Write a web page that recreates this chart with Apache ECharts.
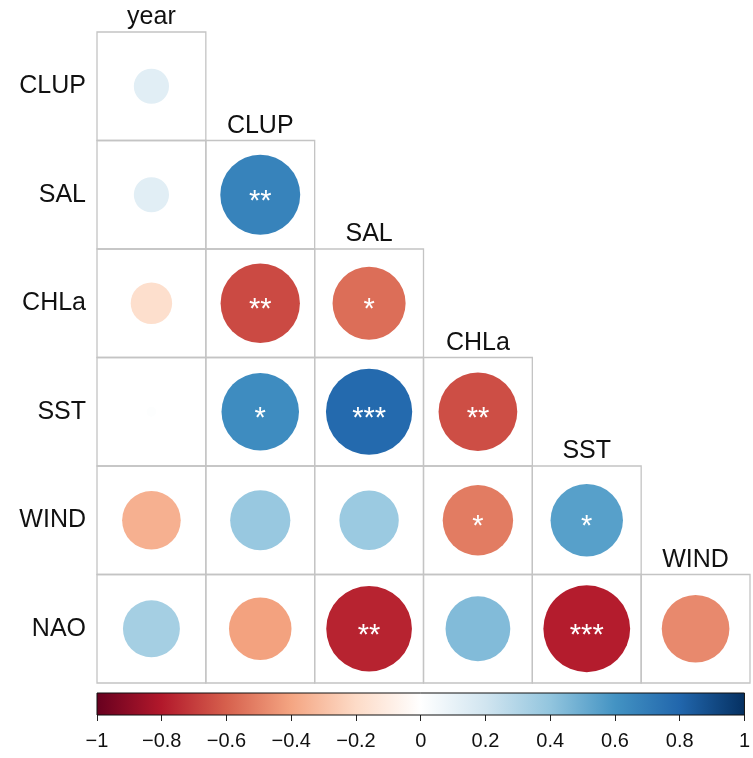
<!DOCTYPE html>
<html>
<head>
<meta charset="utf-8">
<script src="https://cdn.jsdelivr.net/npm/echarts@6/dist/echarts.min.js"></script>
<style>
html,body{margin:0;padding:0;background:#fff;}
#chart{width:753px;height:758px;}
</style>
</head>
<body>
<div id="chart"></div>
<script>
// ---- data ----
const rowNames = ['CLUP', 'SAL', 'CHLa', 'SST', 'WIND', 'NAO'];
const colNames = ['year', 'CLUP', 'SAL', 'CHLa', 'SST', 'WIND'];
// lower-triangle correlations, row by row (columns year..)
const corrCLUP = [0.13];
const corrSAL  = [0.13, 0.67];
const corrCHLa = [-0.18, -0.66, -0.56];
const corrSST  = [0.01, 0.63, 0.78, -0.65];
const corrWIND = [-0.36, 0.38, 0.37, -0.52, 0.55];
const corrNAO  = [0.34, -0.41, -0.77, 0.44, -0.79, -0.48];
const starsCLUP = [''];
const starsSAL  = ['', '**'];
const starsCHLa = ['', '**', '*'];
const starsSST  = ['', '*', '***', '**'];
const starsWIND = ['', '', '', '*', '*'];
const starsNAO  = ['', '', '**', '', '***', ''];
const colorbarTicks = [-1, -0.8, -0.6, -0.4, -0.2, 0, 0.2, 0.4, 0.6, 0.8, 1];

const corrRows = [corrCLUP, corrSAL, corrCHLa, corrSST, corrWIND, corrNAO];
const starRows = [starsCLUP, starsSAL, starsCHLa, starsSST, starsWIND, starsNAO];

// RdBu palette (corrplot COL2('RdBu'))
const stops = ['#67001F', '#B2182B', '#D6604D', '#F4A582', '#FDDBC7', '#FFFFFF',
               '#D1E5F0', '#92C5DE', '#4393C3', '#2166AC', '#053061'];
function hex2rgb(h) { return [parseInt(h.slice(1,3),16), parseInt(h.slice(3,5),16), parseInt(h.slice(5,7),16)]; }
function colorOf(v) {
  const t = (Math.max(-1, Math.min(1, v)) + 1) / 2 * (stops.length - 1);
  const i = Math.min(stops.length - 2, Math.floor(t));
  const f = t - i;
  const a = hex2rgb(stops[i]), b = hex2rgb(stops[i + 1]);
  const c = a.map((x, k) => Math.round(x + (b[k] - x) * f));
  return 'rgb(' + c.join(',') + ')';
}

const cellData = [];
corrRows.forEach((row, i) => {
  row.forEach((v, j) => { cellData.push([j, i, v, starRows[i][j]]); });
});

const FONT = '"Liberation Sans", Arial, sans-serif';

const chart = echarts.init(document.getElementById('chart'), null, { renderer: 'canvas' });
chart.setOption({
  backgroundColor: '#ffffff',
  animation: false,
  grid: [
    { left: 97, top: 32, width: 653, height: 651 },
    { left: 97, top: 693, width: 653, height: 22 }
  ],
  xAxis: [
    { gridIndex: 0, type: 'category', data: colNames, show: false },
    {
      gridIndex: 1, type: 'value', min: -1, max: 1, interval: 0.2,
      axisLine: { show: false },
      axisTick: { show: true, length: 6, lineStyle: { color: '#222', width: 1 } },
      splitLine: { show: false },
      axisLabel: {
        fontSize: 20, color: '#111', fontFamily: FONT, margin: 16,
        formatter: v => String(colorbarTicks.reduce((p, c) => Math.abs(c - v) < Math.abs(p - v) ? c : p)).replace('-', '\u2212')
      }
    }
  ],
  yAxis: [
    {
      gridIndex: 0, type: 'category', data: rowNames, inverse: true,
      axisLine: { show: false }, axisTick: { show: false }, splitLine: { show: false },
      axisLabel: { fontSize: 25, color: '#111', fontFamily: FONT, margin: 11 }
    },
    { gridIndex: 1, type: 'value', min: 0, max: 1, show: false }
  ],
  series: [
    {
      type: 'custom',
      xAxisIndex: 0, yAxisIndex: 0,
      data: cellData,
      renderItem: function (params, api) {
        const j = api.value(0), i = api.value(1), v = api.value(2);
        const st = cellData[params.dataIndex][3];
        const c = api.coord([j, i]);
        const s = api.size([1, 1]);
        const w = s[0], h = s[1];
        const children = [
          {
            type: 'rect',
            shape: { x: c[0] - w / 2, y: c[1] - h / 2, width: w, height: h },
            style: { fill: 'none', stroke: '#c4c4c4', lineWidth: 1.3 }
          },
          {
            type: 'circle',
            shape: { cx: c[0], cy: c[1], r: 0.45 * Math.sqrt(Math.abs(v)) * Math.min(w, h) },
            style: { fill: colorOf(v) }
          }
        ];
        if (st) {
          children.push({
            type: 'text',
            style: {
              x: c[0], y: c[1] + 7, text: st, fill: '#ffffff',
              font: '29px ' + FONT, align: 'center', verticalAlign: 'middle'
            }
          });
        }
        if (i === j) {
          children.push({
            type: 'text',
            style: {
              x: c[0], y: c[1] - h / 2 - 2, text: colNames[j], fill: '#111',
              font: '25px ' + FONT, align: 'center', verticalAlign: 'bottom'
            }
          });
        }
        return { type: 'group', children: children };
      }
    },
    {
      type: 'custom',
      xAxisIndex: 1, yAxisIndex: 1,
      data: [[-1, 0, 1, 1]],
      renderItem: function (params, api) {
        const p0 = api.coord([api.value(0), api.value(1)]);
        const p1 = api.coord([api.value(2), api.value(3)]);
        const gstops = stops.map((col, k) => ({ offset: k / (stops.length - 1), color: col }));
        return {
          type: 'rect',
          shape: { x: p0[0], y: p1[1], width: p1[0] - p0[0], height: p0[1] - p1[1] },
          style: {
            fill: new echarts.graphic.LinearGradient(0, 0, 1, 0, gstops),
            stroke: '#111', lineWidth: 1
          }
        };
      }
    }
  ]
});
</script>
</body>
</html>
